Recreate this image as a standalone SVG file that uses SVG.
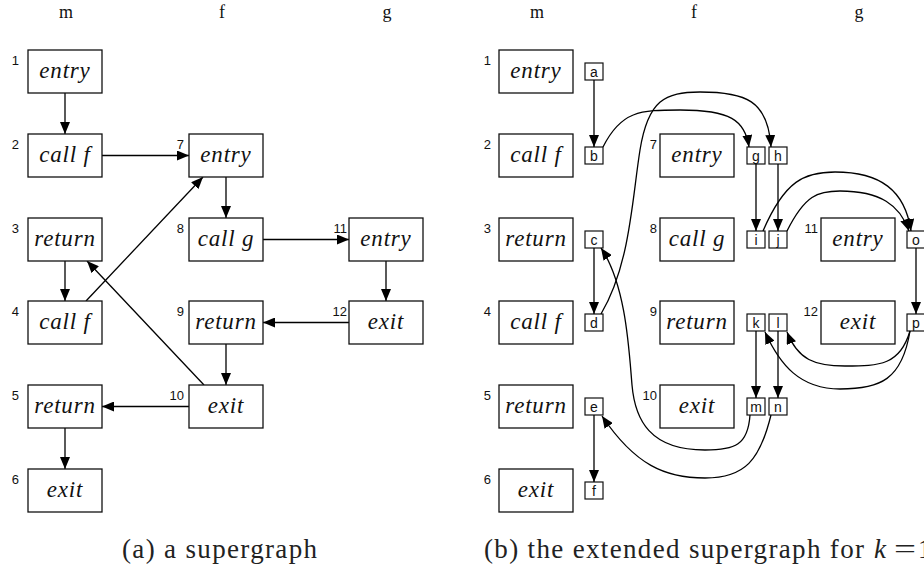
<svg xmlns="http://www.w3.org/2000/svg" width="924" height="567" viewBox="0 0 924 567">
  <style>
    .box { fill: #fff; stroke: #111; stroke-width: 1.3; }
    .sbox { fill: #fff; stroke: #111; stroke-width: 1.2; }
    .lbl { font-family: "Liberation Serif", "Times New Roman", serif; font-style: italic; font-size: 23px; letter-spacing: 0.8px; text-anchor: middle; fill: #111; }
    .num { font-family: "Liberation Sans", Arial, sans-serif; font-size: 13px; text-anchor: end; fill: #111; }
    .slbl { font-family: "Liberation Sans", Arial, sans-serif; font-size: 14px; text-anchor: middle; fill: #111; }
    .head { font-family: "Liberation Serif", "Times New Roman", serif; font-size: 18px; text-anchor: middle; fill: #111; }
    .cap { font-family: "Liberation Serif", "Times New Roman", serif; font-size: 27px; fill: #222; }
    .edge { fill: none; stroke: #000; stroke-width: 1.3; marker-end: url(#arr); }
  </style>
  <defs>
    <marker id="arr" markerWidth="12" markerHeight="10" refX="12" refY="5" orient="auto" markerUnits="userSpaceOnUse">
      <path d="M0,0 L12,5 L0,10 z" fill="#000"/>
    </marker>
  </defs>

  <rect width="924" height="567" fill="#fff"/>

  <!-- ===== (a) supergraph ===== -->
  <g id="a-headers">
    <text class="head" x="66" y="18">m</text>
    <text class="head" x="222" y="18">f</text>
    <text class="head" x="387" y="18">g</text>
  </g>

  <g id="a-connectors">
    <path class="edge" d="M65 93 V134"/>
    <path class="edge" d="M65 261 V301"/>
    <path class="edge" d="M65 428 V469"/>
    <path class="edge" d="M102 155.5 H189"/>
    <path class="edge" d="M226 177 V218"/>
    <path class="edge" d="M263 239.5 H349"/>
    <path class="edge" d="M386 261 V301"/>
    <path class="edge" d="M349 322.5 H263"/>
    <path class="edge" d="M226 344 V385"/>
    <path class="edge" d="M189 406.5 H102"/>
    <path class="edge" d="M86 301 L203 177"/>
    <path class="edge" d="M204 385 L87 261"/>
  </g>

  <g id="a-n1"><rect class="box" x="28" y="50" width="74" height="43"/><text class="num" x="19" y="64.5">1</text><text class="lbl" x="65" y="78">entry</text></g>
  <g id="a-n2"><rect class="box" x="28" y="134" width="74" height="43"/><text class="num" x="19" y="148.5">2</text><text class="lbl" x="65" y="162">call f</text></g>
  <g id="a-n3"><rect class="box" x="28" y="218" width="74" height="43"/><text class="num" x="19" y="232.5">3</text><text class="lbl" x="65" y="246">return</text></g>
  <g id="a-n4"><rect class="box" x="28" y="301" width="74" height="43"/><text class="num" x="19" y="315.5">4</text><text class="lbl" x="65" y="329">call f</text></g>
  <g id="a-n5"><rect class="box" x="28" y="385" width="74" height="43"/><text class="num" x="19" y="399.5">5</text><text class="lbl" x="65" y="413">return</text></g>
  <g id="a-n6"><rect class="box" x="28" y="469" width="74" height="43"/><text class="num" x="19" y="483.5">6</text><text class="lbl" x="65" y="497">exit</text></g>
  <g id="a-n7"><rect class="box" x="189" y="134" width="74" height="43"/><text class="num" x="184" y="148.5">7</text><text class="lbl" x="226" y="162">entry</text></g>
  <g id="a-n8"><rect class="box" x="189" y="218" width="74" height="43"/><text class="num" x="184" y="232.5">8</text><text class="lbl" x="226" y="246">call g</text></g>
  <g id="a-n9"><rect class="box" x="189" y="301" width="74" height="43"/><text class="num" x="184" y="315.5">9</text><text class="lbl" x="226" y="329">return</text></g>
  <g id="a-n10"><rect class="box" x="189" y="385" width="74" height="43"/><text class="num" x="184" y="399.5">10</text><text class="lbl" x="226" y="413">exit</text></g>
  <g id="a-n11"><rect class="box" x="349" y="218" width="74" height="43"/><text class="num" x="347" y="232.5">11</text><text class="lbl" x="386" y="246">entry</text></g>
  <g id="a-n12"><rect class="box" x="349" y="301" width="74" height="43"/><text class="num" x="347" y="315.5">12</text><text class="lbl" x="386" y="329">exit</text></g>

  <text class="cap" x="122" y="558" textLength="195" lengthAdjust="spacing">(a) a supergraph</text>

  <!-- ===== (b) extended supergraph ===== -->
  <g id="b-headers">
    <text class="head" x="537" y="18">m</text>
    <text class="head" x="694" y="18">f</text>
    <text class="head" x="859" y="18">g</text>
  </g>

  <g id="b-n1"><rect class="box" x="499" y="50" width="74" height="43"/><text class="num" x="491" y="64.5">1</text><text class="lbl" x="536" y="78">entry</text></g>
  <g id="b-n2"><rect class="box" x="499" y="134" width="74" height="43"/><text class="num" x="491" y="148.5">2</text><text class="lbl" x="536" y="162">call f</text></g>
  <g id="b-n3"><rect class="box" x="499" y="218" width="74" height="43"/><text class="num" x="491" y="232.5">3</text><text class="lbl" x="536" y="246">return</text></g>
  <g id="b-n4"><rect class="box" x="499" y="301" width="74" height="43"/><text class="num" x="491" y="315.5">4</text><text class="lbl" x="536" y="329">call f</text></g>
  <g id="b-n5"><rect class="box" x="499" y="385" width="74" height="43"/><text class="num" x="491" y="399.5">5</text><text class="lbl" x="536" y="413">return</text></g>
  <g id="b-n6"><rect class="box" x="499" y="469" width="74" height="43"/><text class="num" x="491" y="483.5">6</text><text class="lbl" x="536" y="497">exit</text></g>
  <g id="b-n7"><rect class="box" x="660" y="134" width="74" height="43"/><text class="num" x="657" y="148.5">7</text><text class="lbl" x="697" y="162">entry</text></g>
  <g id="b-n8"><rect class="box" x="660" y="218" width="74" height="43"/><text class="num" x="657" y="232.5">8</text><text class="lbl" x="697" y="246">call g</text></g>
  <g id="b-n9"><rect class="box" x="660" y="301" width="74" height="43"/><text class="num" x="657" y="315.5">9</text><text class="lbl" x="697" y="329">return</text></g>
  <g id="b-n10"><rect class="box" x="660" y="385" width="74" height="43"/><text class="num" x="657" y="399.5">10</text><text class="lbl" x="697" y="413">exit</text></g>
  <g id="b-n11"><rect class="box" x="821" y="218" width="74" height="43"/><text class="num" x="818" y="232.5">11</text><text class="lbl" x="858" y="246">entry</text></g>
  <g id="b-n12"><rect class="box" x="821" y="301" width="74" height="43"/><text class="num" x="818" y="315.5">12</text><text class="lbl" x="858" y="329">exit</text></g>

  <!-- extended states -->
  <g id="b-sa"><rect class="sbox" x="585" y="63" width="18" height="17"/><text class="slbl" x="594" y="76.5">a</text></g>
  <g id="b-sb"><rect class="sbox" x="585" y="147" width="18" height="17"/><text class="slbl" x="594" y="160.5">b</text></g>
  <g id="b-sc"><rect class="sbox" x="585" y="231" width="18" height="17"/><text class="slbl" x="594" y="244.5">c</text></g>
  <g id="b-sd"><rect class="sbox" x="585" y="314" width="18" height="17"/><text class="slbl" x="594" y="327.5">d</text></g>
  <g id="b-se"><rect class="sbox" x="585" y="398" width="18" height="17"/><text class="slbl" x="594" y="411.5">e</text></g>
  <g id="b-sf"><rect class="sbox" x="585" y="482" width="18" height="17"/><text class="slbl" x="594" y="495.5">f</text></g>
  <g id="b-sg"><rect class="sbox" x="747" y="147" width="18" height="17"/><text class="slbl" x="756" y="160.5">g</text></g>
  <g id="b-sh"><rect class="sbox" x="769" y="147" width="18" height="17"/><text class="slbl" x="778" y="160.5">h</text></g>
  <g id="b-si"><rect class="sbox" x="747" y="231" width="18" height="17"/><text class="slbl" x="756" y="244.5">i</text></g>
  <g id="b-sj"><rect class="sbox" x="769" y="231" width="18" height="17"/><text class="slbl" x="778" y="244.5">j</text></g>
  <g id="b-sk"><rect class="sbox" x="747" y="314" width="18" height="17"/><text class="slbl" x="756" y="327.5">k</text></g>
  <g id="b-sl"><rect class="sbox" x="769" y="314" width="18" height="17"/><text class="slbl" x="778" y="327.5">l</text></g>
  <g id="b-sm"><rect class="sbox" x="747" y="398" width="18" height="17"/><text class="slbl" x="756" y="411.5">m</text></g>
  <g id="b-sn"><rect class="sbox" x="769" y="398" width="18" height="17"/><text class="slbl" x="778" y="411.5">n</text></g>
  <g id="b-so"><rect class="sbox" x="907" y="231" width="18" height="17"/><text class="slbl" x="916" y="244.5">o</text></g>
  <g id="b-sp"><rect class="sbox" x="907" y="314" width="18" height="17"/><text class="slbl" x="916" y="327.5">p</text></g>

  <g id="b-connectors">
    <path class="edge" d="M594 80 V147"/>
    <path class="edge" d="M594 248 V314"/>
    <path class="edge" d="M594 415 V482"/>
    <path class="edge" d="M756 164 V231"/>
    <path class="edge" d="M778 164 V231"/>
    <path class="edge" d="M756 331 V398"/>
    <path class="edge" d="M778 331 V398"/>
    <path class="edge" d="M916 248 V314"/>
    <!-- call edges -->
    <path class="edge" d="M603 147 C621 111, 640 110, 680 110 C730 110, 745 120, 749 147"/>
    <path class="edge" d="M601 314 C630 265, 632 200, 640 150 C648 100, 665 92, 700 92 C745 92, 768 100, 771 147"/>
    <path class="edge" d="M763 231 C785 180, 805 172, 835 172 C880 172, 905 190, 911 231"/>
    <path class="edge" d="M787 231 C805 195, 818 191, 840 191 C880 191, 900 205, 909 231"/>
    <!-- return edges -->
    <path class="edge" d="M910 331 C900 365, 880 366, 845 366 C815 366, 798 360, 787 332"/>
    <path class="edge" d="M910 331 C902 380, 880 389, 840 389 C800 389, 780 365, 765 332"/>
    <path class="edge" d="M750 415 C748 445, 735 450, 705 450 C650 450, 635 420, 632 385 C629 350, 626 285, 601 248"/>
    <path class="edge" d="M771 415 C760 460, 745 478, 705 478 C665 478, 635 465, 602 416"/>
  </g>

  <g id="b-caption" class="cap">
    <text x="484" y="558" textLength="380" lengthAdjust="spacing">(b) the extended supergraph for</text>
    <text x="874" y="558" font-style="italic">k</text>
    <text x="894" y="558" textLength="22" lengthAdjust="spacingAndGlyphs">=</text>
    <text x="918" y="558">1</text>
  </g>
</svg>
